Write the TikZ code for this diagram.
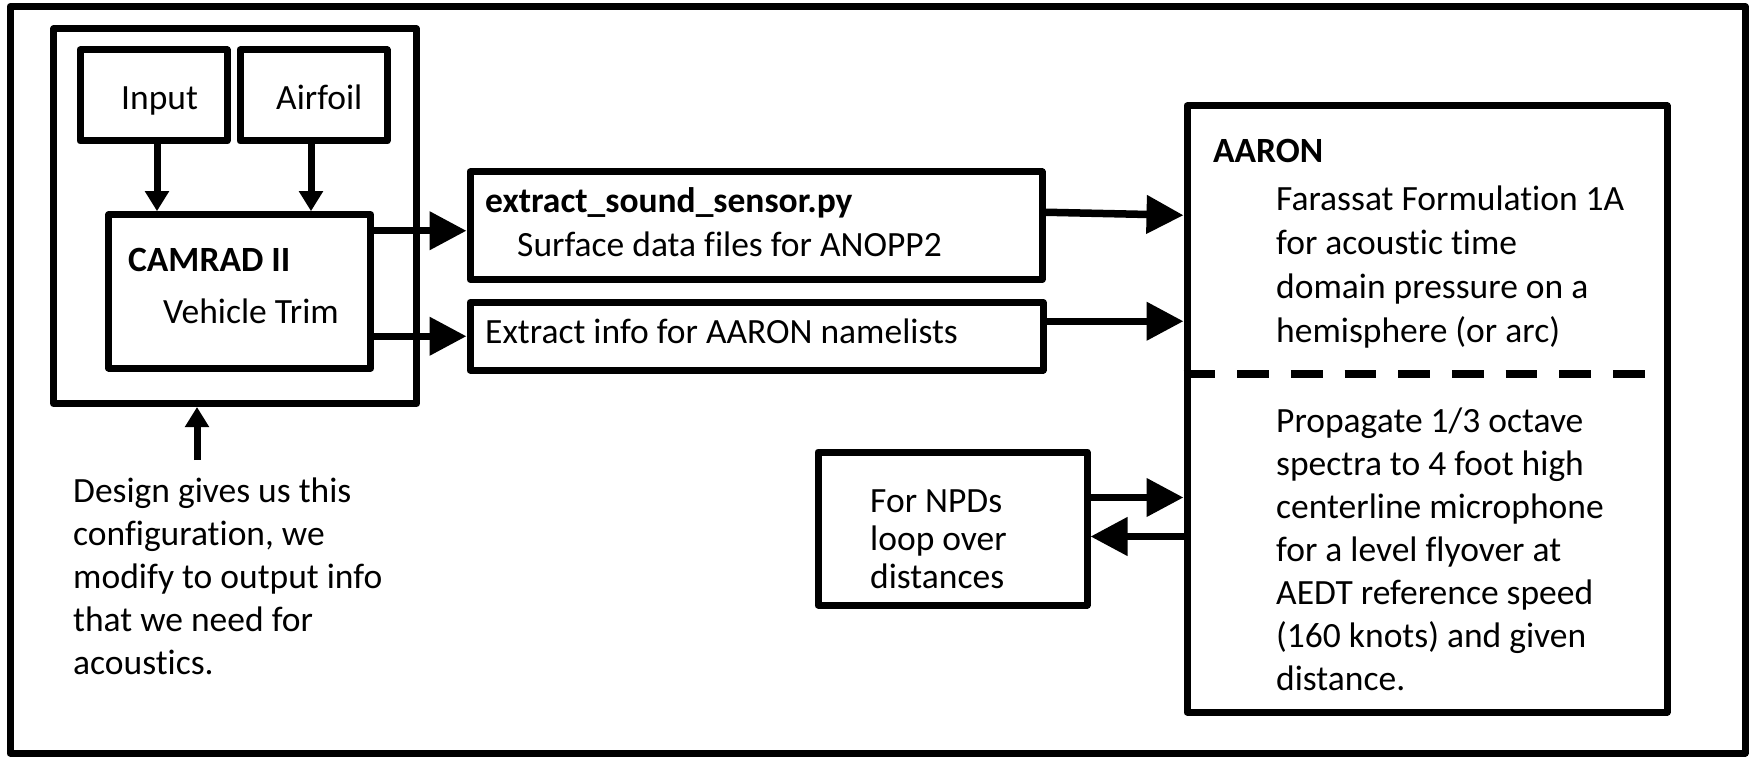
\documentclass[tikz,border=0pt]{standalone}
\usepackage{fontspec}
\setmainfont{Carlito}[Ligatures=NoCommon]
\usetikzlibrary{arrows.meta}
\begin{document}
\begin{tikzpicture}[x=1pt,y=-1pt,
  box/.style={draw, line width=7pt, line join=round, inner sep=0pt},
  txt/.style={anchor=base west, inner sep=0pt, align=left, font=\fontsize{35.5}{44}\selectfont},
  txtb/.style={txt, font=\fontsize{35.5}{44}\selectfont\bfseries},
  lead43/.style={font=\fontsize{35.5}{43}\selectfont},
  lead38/.style={font=\fontsize{35.5}{38}\selectfont},
  sarr/.style={line width=7pt, -{Triangle[length=20pt,width=23pt]}},
  barr/.style={line width=7.5pt, -{Triangle[length=37pt,width=37pt]}},
  divider/.style={line width=8pt, dash pattern=on 31.7pt off 22pt},
]
\useasboundingbox (0,0) rectangle (1752,759);
\fill[white] (0,0) rectangle (1752,759);

% boxes
\node[box, minimum width=1735pt, minimum height=746.5pt] (frame) at (877.5,379.75) {};
\node[box, minimum width=363pt, minimum height=374.5pt] (group) at (235,216.25) {};
\node[box, minimum width=147pt, minimum height=91pt] (input) at (153.5,95.5) {};
\node[box, minimum width=147pt, minimum height=91pt] (airfoil) at (313.5,95.5) {};
\node[box, minimum width=262pt, minimum height=153.3pt] (camrad) at (239.7,291.35) {};
\node[box, minimum width=572pt, minimum height=107.5pt] (extract) at (756,225.75) {};
\node[box, minimum width=573pt, minimum height=67.5pt] (names) at (756.5,336.25) {};
\node[box, minimum width=480pt, minimum height=606pt] (aaron) at (1427,409) {};
\node[box, minimum width=269pt, minimum height=153pt] (npd) at (952.5,528.5) {};

\draw[divider] (1183.5,374) -- (1644.5,374);

% texts (multi-line nodes: base = baseline of the last line)
\node[txt] (tinput) at (121,110) {Input};
\node[txt] (tairfoil) at (276,110) {Airfoil};
\node[txtb] (tcam) at (128,272) {CAMRAD II};
\node[txt] (tveh) at (163,323) {Vehicle Trim};
\node[txtb] (tex1) at (485,213) {extract\_sound\_sensor.py};
\node[txt] (tex2) at (517,256) {Surface data files for ANOPP2};
\node[txt] (tnames) at (485,343) {Extract info for AARON namelists};
\node[txtb] (taaron) at (1213,163) {AARON};
\node[txt] (tfar) at (1276,342) {Farassat Formulation 1A\\for acoustic time\\domain pressure on a\\hemisphere (or arc)};
\node[txt, lead43] (tprop) at (1276,690) {Propagate 1/3 octave\\spectra to 4 foot high\\centerline microphone\\for a level flyover at\\AEDT reference speed\\(160 knots) and given\\distance.};
\node[txt, lead38] (tnpd) at (870,588) {For NPDs\\loop over\\distances};
\node[txt, lead43] (tdesign) at (73,674) {Design gives us this\\configuration, we\\modify to output info\\that we need for\\acoustics.};

% connectors
\draw[sarr] ([xshift=3.5pt]input.south) -- ([xshift=3.5pt]input.south |- camrad.north);
\coordinate (af) at ([xshift=-2.5pt]airfoil.south);
\draw[sarr] (af) -- (af |- camrad.north);
\coordinate (e1) at ([yshift=-5pt]extract.west);
\draw[barr] (e1 -| camrad.east) -- (e1);
\draw[barr] (names.west -| camrad.east) -- (names.west);
\coordinate (e2) at ([yshift=13.5pt]extract.east);
\coordinate (e2t) at ([yshift=10.5pt]extract.east);
\draw[barr] (e2) -- (e2t -| aaron.west);
\coordinate (n2) at ([yshift=15pt]names.east);
\draw[barr] (n2) -- (n2 -| aaron.west);
\coordinate (p1) at ([yshift=31pt]npd.east);
\draw[barr] (p1) -- (p1 -| aaron.west);
\coordinate (p2) at ([yshift=-8pt]npd.east);
\draw[barr] (p2 -| aaron.west) -- (p2);
\coordinate (dtail) at (197,460);
\draw[sarr] (dtail) -- (dtail |- group.south);
\end{tikzpicture}
\end{document}
